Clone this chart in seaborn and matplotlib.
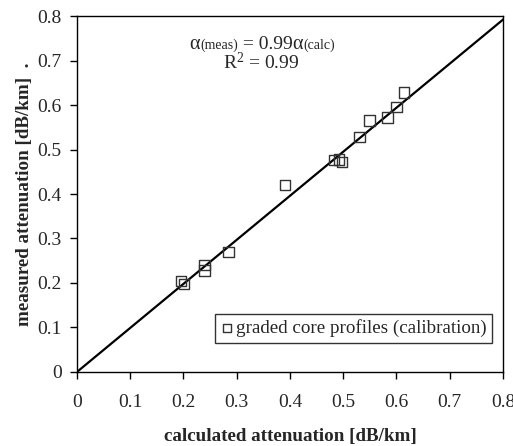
import matplotlib
matplotlib.use("Agg")
import matplotlib.pyplot as plt
import matplotlib.transforms as mtransforms
import seaborn as sns
import numpy as np
import pandas as pd

calc = [0.195, 0.201, 0.240, 0.240, 0.285, 0.391, 0.483, 0.492, 0.498, 0.531, 0.549, 0.583, 0.600, 0.614]
meas = [0.204, 0.198, 0.240, 0.228, 0.270, 0.420, 0.476, 0.477, 0.472, 0.528, 0.565, 0.572, 0.596, 0.628]
slope = 0.99
fit_x = [0.0, 0.81]
ticks = [0, 0.1, 0.2, 0.3, 0.4, 0.5, 0.6, 0.7, 0.8]
tick_labels = ["0", "0.1", "0.2", "0.3", "0.4", "0.5", "0.6", "0.7", "0.8"]

sns.set_style("ticks")
plt.rcParams['font.family'] = ['Liberation Serif', 'DejaVu Serif']
plt.rcParams['mathtext.fontset'] = 'custom'
plt.rcParams['mathtext.rm'] = 'Liberation Serif'
plt.rcParams['mathtext.it'] = 'Liberation Serif:italic'
plt.rcParams['mathtext.bf'] = 'Liberation Serif:bold'

fig = plt.figure(figsize=(5.13, 4.46), dpi=100)
ax = fig.add_axes([0.150, 0.166, 0.8305, 0.798])

df = pd.DataFrame({"calc": calc, "meas": meas})
fit = pd.DataFrame({"x": fit_x, "y": [slope * v for v in fit_x]})
sns.lineplot(data=fit, x="x", y="y", ax=ax, color="black", linewidth=1.6, legend=False)
sns.scatterplot(data=df, x="calc", y="meas", ax=ax, marker="s", s=58,
                facecolor="none", edgecolor="#333333", linewidth=1.0,
                label="graded core profiles (calibration)", zorder=3)

ax.set_xlim(0, 0.8)
ax.set_ylim(0, 0.8)
ax.set_xticks(ticks)
ax.set_xticklabels(tick_labels, fontsize=14)
ax.set_yticks(ticks)
ax.set_yticklabels(tick_labels, fontsize=14)
ax.tick_params(direction="out", length=5, width=1, color="black")
ax.tick_params(axis="x", pad=11)
ax.tick_params(axis="y", pad=6)
for s in ax.spines.values():
    s.set_visible(True)
    s.set_color("black")
    s.set_linewidth(1.0)

ax.set_xlabel("calculated attenuation [dB/km]", fontsize=13.7, fontweight="bold", labelpad=12)
ax.set_ylabel("measured attenuation [dB/km]  .", fontsize=13.7, fontweight="bold", labelpad=3)

# annotation built from pieces sharing one baseline
fig.canvas.draw()
renderer = fig.canvas.get_renderer()
pieces = [("\u03b1", 14.5), ("(meas)", 10), (" = 0.99", 14), ("\u03b1", 14.5), ("(calc)", 10)]
widths = []
for txt, fs in pieces:
    t = ax.text(0, 0, txt, fontsize=fs)
    widths.append(t.get_window_extent(renderer).width)
    t.remove()
total = sum(widths)
cx, cy = 0.348, 0.7265
off = -total / 2.0
for (txt, fs), w in zip(pieces, widths):
    tr = mtransforms.offset_copy(ax.transData, fig=fig, x=off, y=0, units="dots")
    ax.text(cx, cy, txt, fontsize=fs, ha="left", va="baseline", transform=tr)
    off += w

ax.text(0.346, 0.681, r"R$^{2}$ = 0.99", fontsize=14, ha="center", va="baseline")

leg = ax.legend(loc="lower right", bbox_to_anchor=(0.974, 0.0815), frameon=True,
                fontsize=13.7, handletextpad=0.1, borderpad=0.3, handlelength=0.7,
                fancybox=False, borderaxespad=0.0, markerscale=0.8)
leg.get_frame().set_edgecolor("black")
leg.get_frame().set_linewidth(1.0)

plt.savefig("out.png", dpi=100)
